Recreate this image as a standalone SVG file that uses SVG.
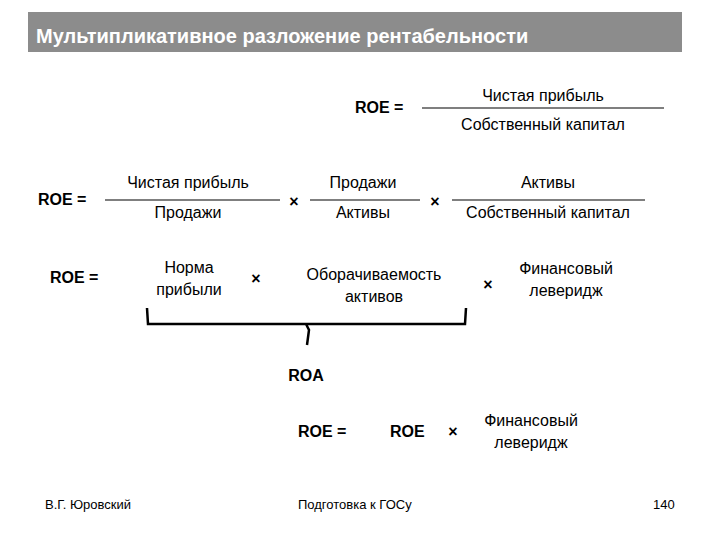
<svg xmlns="http://www.w3.org/2000/svg" width="720" height="540" viewBox="0 0 720 540">
<style>
text{font-family:"Liberation Sans",Arial,sans-serif;fill:#000}
.t{font-size:16px}
.b{font-size:16px;font-weight:bold}
.s{font-size:13px}
.ln{stroke:#000;stroke-width:1.2;fill:none}
</style>
<rect width="720" height="540" fill="#fff"/>
<g id="title"><rect x="28" y="12" width="654" height="40" fill="#8c8c8c"/>
<text x="36" y="43" style="font-size:20px;font-weight:bold;fill:#fff">Мультипликативное разложение рентабельности</text></g>
<g id="row1">
<text class="b" x="355" y="113">ROE =</text>
<text class="t" x="543" y="101" text-anchor="middle">Чистая прибыль</text>
<line class="ln" x1="422" y1="108" x2="664" y2="108"/>
<text class="t" x="543" y="130" text-anchor="middle">Собственный капитал</text>
</g>
<g id="row2">
<text class="b" x="38" y="205">ROE =</text>
<text class="t" x="188" y="188" text-anchor="middle">Чистая прибыль</text>
<text class="t" x="188" y="218" text-anchor="middle">Продажи</text>
<line class="ln" x1="105" y1="200" x2="280" y2="200"/>
<text class="b" x="294" y="207" text-anchor="middle">×</text>
<text class="t" x="363" y="188" text-anchor="middle">Продажи</text>
<text class="t" x="363" y="218" text-anchor="middle">Активы</text>
<line class="ln" x1="310" y1="200" x2="420" y2="200"/>
<text class="b" x="435" y="207" text-anchor="middle">×</text>
<text class="t" x="548" y="188" text-anchor="middle">Активы</text>
<text class="t" x="548" y="218" text-anchor="middle">Собственный капитал</text>
<line class="ln" x1="452" y1="200" x2="645" y2="200"/>
</g>
<g id="row3">
<text class="b" x="50" y="283">ROE =</text>
<text class="t" x="189" y="273" text-anchor="middle">Норма</text>
<text class="t" x="189" y="295" text-anchor="middle">прибыли</text>
<text class="b" x="256" y="284" text-anchor="middle">×</text>
<text class="t" x="374" y="280" text-anchor="middle">Оборачиваемость</text>
<text class="t" x="374" y="302" text-anchor="middle">активов</text>
<text class="b" x="488" y="290" text-anchor="middle">×</text>
<text class="t" x="566" y="274" text-anchor="middle">Финансовый</text>
<text class="t" x="566" y="296" text-anchor="middle">леверидж</text>
</g>
<g id="brace">
<path d="M147 308 L148 324 L465 324 L466 308 M306 324 L309 330 L307 345" stroke="#000" stroke-width="2.5" fill="none"/>
<text class="b" x="306" y="381" text-anchor="middle">ROA</text>
</g>
<g id="row4">
<text class="b" x="298" y="437">ROE =</text>
<text class="b" x="390" y="437">ROE</text>
<text class="b" x="453" y="437" text-anchor="middle">×</text>
<text class="t" x="531" y="426" text-anchor="middle">Финансовый</text>
<text class="t" x="531" y="448" text-anchor="middle">леверидж</text>
</g>
<g id="footer">
<text class="s" x="45" y="509">В.Г. Юровский</text>
<text class="s" x="298" y="509">Подготовка к ГОСу</text>
<text class="s" x="653" y="509">140</text>
</g>
</svg>
